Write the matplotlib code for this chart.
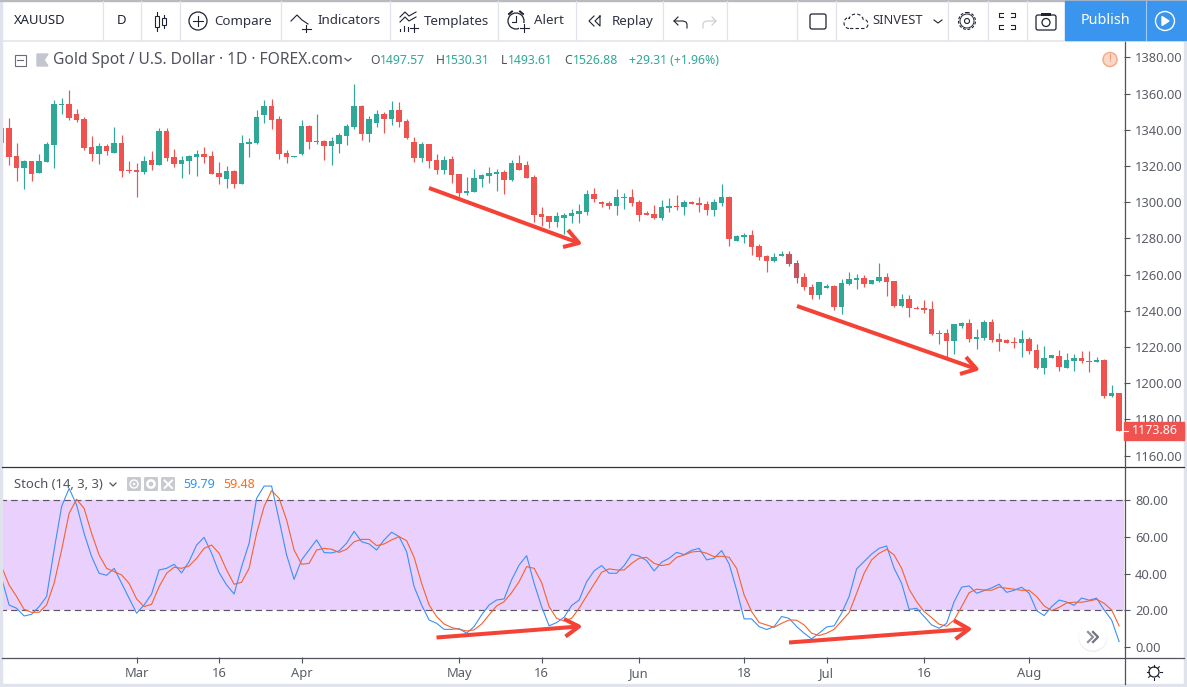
#!/usr/bin/env python
import numpy as np
import matplotlib
matplotlib.use("Agg")
from matplotlib import pyplot as plt
from matplotlib.patches import Rectangle, Circle, FancyBboxPatch

plt.rcParams['font.family'] = ['Noto Sans', 'DejaVu Sans']

# data
###########################################################################
opens = [1332.8, 1341.0, 1325.6, 1319.0, 1322.8, 1316.2, 1322.3, 1331.7, 1353.8, 1354.3,
         1348.8, 1346.0, 1330.5, 1326.7, 1331.1, 1327.2, 1332.8, 1317.9, 1317.9, 1316.7,
         1323.4, 1320.6, 1339.4, 1325.0, 1321.2, 1322.8, 1325.0, 1326.7, 1325.6, 1316.2,
         1312.9, 1317.3, 1310.1, 1332.2, 1332.8, 1348.2, 1353.2, 1346.0, 1327.2, 1325.0,
         1326.7, 1342.2, 1333.3, 1333.9, 1331.1, 1332.2, 1336.6, 1341.6, 1353.2, 1337.7,
         1343.8, 1348.8, 1346.0, 1351.0, 1344.9, 1333.3, 1324.5, 1332.2, 1323.4, 1317.9,
         1323.9, 1315.6, 1305.1, 1305.7, 1312.9, 1314.5, 1315.6, 1316.7, 1312.3, 1321.7,
         1320.6, 1314.0, 1293.5, 1292.4, 1289.1, 1291.3, 1292.4, 1293.5, 1294.6, 1304.6,
         1300.2, 1299.6, 1298.0, 1302.4, 1302.9, 1300.2, 1294.1, 1293.5, 1291.3, 1296.8,
         1298.0, 1297.4, 1300.2, 1299.6, 1299.0, 1295.7, 1299.6, 1302.9, 1278.6, 1280.8,
         1281.9, 1275.8, 1270.3, 1267.6, 1270.3, 1271.4, 1266.4, 1258.7, 1253.2, 1248.8,
         1252.6, 1253.7, 1242.1, 1254.8, 1257.1, 1258.2, 1254.8, 1256.5, 1258.7, 1256.5,
         1242.7, 1246.6, 1241.6, 1241.6, 1241.0, 1227.2, 1227.8, 1223.4, 1231.6, 1233.3,
         1224.5, 1225.0, 1233.9, 1224.5, 1223.9, 1222.8, 1222.2, 1224.5, 1218.4, 1208.4,
         1214.0, 1215.1, 1208.4, 1212.3, 1214.0, 1212.3, 1211.8, 1212.9, 1192.9, 1194.6]
highs = [1341.0, 1346.6, 1332.8, 1323.4, 1322.8, 1326.7, 1333.3, 1356.5, 1357.6, 1362.0,
         1351.5, 1347.1, 1336.6, 1332.8, 1332.2, 1341.6, 1337.2, 1322.8, 1321.7, 1325.6,
         1328.3, 1341.0, 1341.0, 1329.5, 1325.6, 1326.1, 1328.9, 1330.5, 1328.3, 1322.3,
         1320.1, 1317.9, 1337.2, 1335.5, 1351.0, 1356.5, 1357.1, 1347.7, 1328.9, 1325.6,
         1345.5, 1342.7, 1348.8, 1334.4, 1336.1, 1338.3, 1343.3, 1365.4, 1353.8, 1347.7,
         1351.0, 1349.9, 1356.0, 1355.4, 1346.0, 1336.1, 1333.3, 1332.2, 1326.7, 1325.6,
         1325.6, 1315.6, 1314.0, 1318.4, 1315.6, 1319.5, 1318.4, 1317.9, 1323.4, 1326.1,
         1322.8, 1315.1, 1297.4, 1292.4, 1294.6, 1294.1, 1296.3, 1299.1, 1306.8, 1307.9,
         1300.7, 1300.7, 1307.3, 1305.1, 1307.3, 1301.3, 1295.2, 1298.5, 1301.3, 1302.4,
         1304.0, 1301.3, 1300.7, 1302.9, 1300.7, 1301.8, 1310.1, 1303.5, 1281.9, 1283.0,
         1284.7, 1277.0, 1270.9, 1272.0, 1273.1, 1273.1, 1268.1, 1260.9, 1254.8, 1256.0,
         1254.8, 1254.3, 1257.6, 1261.5, 1260.4, 1259.8, 1257.1, 1266.4, 1260.9, 1256.5,
         1249.3, 1248.8, 1242.7, 1246.0, 1245.5, 1229.4, 1230.0, 1232.7, 1233.9, 1235.5,
         1230.0, 1235.0, 1235.5, 1227.8, 1224.5, 1225.6, 1229.4, 1225.6, 1221.7, 1220.6,
         1215.6, 1218.4, 1216.7, 1216.2, 1217.8, 1217.8, 1214.5, 1213.4, 1199.0, 1194.6]
lows = [1332.8, 1320.6, 1311.8, 1307.3, 1311.8, 1316.2, 1322.3, 1319.0, 1348.8, 1345.5,
        1344.4, 1328.9, 1322.8, 1321.2, 1326.1, 1327.2, 1314.0, 1316.2, 1302.9, 1315.6,
        1317.9, 1320.6, 1322.8, 1319.5, 1313.4, 1315.6, 1314.5, 1321.7, 1315.6, 1310.1,
        1307.9, 1307.9, 1310.1, 1325.0, 1332.2, 1343.8, 1340.5, 1323.9, 1321.7, 1325.0,
        1326.1, 1329.5, 1332.2, 1323.4, 1320.6, 1327.2, 1331.7, 1340.5, 1334.4, 1333.3,
        1341.6, 1338.3, 1342.7, 1341.6, 1335.0, 1322.3, 1322.3, 1319.0, 1315.6, 1315.6,
        1310.7, 1302.4, 1304.0, 1305.7, 1308.5, 1310.7, 1306.2, 1304.6, 1311.8, 1317.9,
        1313.4, 1289.1, 1286.9, 1285.8, 1286.4, 1282.5, 1288.6, 1288.6, 1293.0, 1300.2,
        1297.4, 1296.3, 1293.0, 1296.3, 1298.0, 1289.7, 1293.0, 1290.8, 1290.2, 1294.6,
        1295.7, 1293.0, 1299.0, 1294.6, 1293.0, 1292.4, 1298.0, 1275.8, 1278.6, 1277.5,
        1270.9, 1268.1, 1261.5, 1267.0, 1270.3, 1264.8, 1255.4, 1251.5, 1246.6, 1246.6,
        1252.6, 1240.5, 1238.3, 1254.3, 1252.1, 1253.2, 1254.8, 1256.0, 1248.2, 1242.1,
        1242.1, 1236.6, 1241.0, 1238.8, 1226.7, 1221.7, 1214.0, 1216.2, 1230.5, 1222.8,
        1218.9, 1223.9, 1222.8, 1217.8, 1222.2, 1219.5, 1214.5, 1216.2, 1207.9, 1205.1,
        1214.0, 1206.8, 1208.4, 1206.8, 1211.2, 1206.2, 1211.8, 1191.9, 1192.4, 1173.86]
closes = [1341.0, 1325.0, 1319.0, 1322.8, 1315.6, 1322.8, 1332.2, 1354.3, 1354.3, 1346.6,
          1345.5, 1329.8, 1326.7, 1331.1, 1328.3, 1332.8, 1317.3, 1317.3, 1316.7, 1322.8,
          1320.6, 1339.4, 1324.5, 1321.2, 1323.4, 1325.6, 1326.7, 1325.0, 1315.6, 1314.0,
          1317.3, 1310.1, 1332.8, 1333.3, 1347.1, 1353.2, 1345.5, 1326.7, 1325.0, 1325.6,
          1342.2, 1333.3, 1333.9, 1331.1, 1333.9, 1337.2, 1342.2, 1353.2, 1337.7, 1346.0,
          1348.8, 1346.0, 1351.0, 1344.4, 1335.3, 1324.5, 1332.2, 1322.8, 1317.9, 1323.4,
          1315.1, 1305.1, 1306.2, 1313.4, 1315.1, 1316.2, 1316.7, 1312.3, 1321.7, 1317.9,
          1313.4, 1293.0, 1291.9, 1289.1, 1292.4, 1293.0, 1294.1, 1295.2, 1304.6, 1301.8,
          1299.0, 1298.0, 1302.9, 1302.9, 1299.6, 1293.0, 1293.0, 1291.3, 1297.4, 1298.0,
          1297.4, 1300.2, 1299.0, 1298.5, 1295.7, 1300.2, 1302.9, 1279.7, 1281.4, 1281.9,
          1275.3, 1269.8, 1267.6, 1269.8, 1271.4, 1265.9, 1258.2, 1253.2, 1248.8, 1256.0,
          1253.7, 1242.1, 1255.4, 1257.6, 1258.2, 1254.8, 1257.1, 1258.7, 1256.0, 1242.7,
          1246.6, 1241.6, 1241.0, 1240.5, 1227.2, 1227.8, 1223.4, 1232.7, 1233.3, 1224.5,
          1225.6, 1233.9, 1223.9, 1222.8, 1222.2, 1222.2, 1224.5, 1217.8, 1208.4, 1214.0,
          1215.6, 1209.0, 1212.9, 1214.0, 1212.3, 1211.8, 1212.9, 1192.9, 1194.6, 1173.86]

stoch_k = [37.5, 22.9, 21.1, 16.9, 17.8, 22.0, 27.5, 52.9, 76.6, 86.5,
           77.5, 62.0, 49.3, 40.2, 39.1, 42.9, 34.7, 26.6, 18.4, 22.9,
           28.9, 42.0, 42.9, 45.1, 40.4, 46.6, 55.6, 59.8, 51.1, 40.6,
           33.8, 28.9, 43.8, 56.6, 81.1, 87.8, 87.8, 69.3, 50.2, 36.9,
           47.5, 52.9, 58.4, 51.5, 51.3, 52.4, 56.6, 63.1, 57.4, 56.2,
           52.9, 58.4, 62.6, 60.2, 52.0, 32.9, 22.9, 14.7, 12.9, 9.6,
           9.6, 10.0, 7.5, 11.1, 17.5, 22.9, 25.6, 26.2, 36.6, 44.7,
           49.8, 34.7, 22.0, 11.5, 13.3, 16.2, 22.6, 25.6, 35.6, 41.5,
           44.4, 40.2, 40.2, 44.4, 50.5, 49.6, 47.1, 41.5, 46.2, 48.4,
           51.6, 50.4, 52.7, 53.8, 47.5, 48.4, 52.6, 45.3, 31.1, 15.3,
           15.3, 11.1, 9.5, 11.1, 16.6, 15.6, 11.1, 7.5, 4.4, 7.5,
           10.9, 11.5, 18.4, 27.5, 42.6, 46.6, 50.7, 53.8, 55.1, 42.9,
           34.7, 20.5, 21.1, 16.6, 12.0, 10.2, 12.9, 24.7, 32.6, 33.3,
           29.3, 30.7, 32.2, 34.2, 29.8, 30.9, 32.6, 29.3, 19.8, 17.1,
           22.0, 25.6, 24.5, 22.7, 26.7, 25.5, 26.6, 20.2, 14.7, 2.9]
stoch_d = [43.8, 33.8, 27.5, 20.5, 18.9, 18.9, 22.9, 34.7, 52.9, 72.9,
           80.6, 75.6, 62.0, 50.2, 42.9, 41.1, 39.3, 34.7, 26.2, 22.0,
           23.3, 32.9, 40.2, 43.5, 42.9, 44.2, 48.4, 53.8, 55.6, 51.1,
           42.0, 34.2, 35.3, 42.9, 62.0, 76.6, 85.3, 81.1, 69.3, 52.9,
           45.1, 45.6, 52.9, 53.8, 53.3, 51.6, 53.3, 57.4, 58.7, 58.7,
           55.3, 56.2, 58.4, 60.2, 58.0, 48.9, 34.7, 22.9, 16.6, 12.5,
           10.6, 9.6, 8.7, 9.3, 12.5, 17.5, 22.4, 24.7, 29.6, 35.6,
           43.8, 42.9, 35.1, 22.0, 15.6, 14.2, 15.6, 21.1, 27.8, 34.2,
           40.7, 42.6, 42.0, 42.0, 45.6, 48.4, 48.9, 45.6, 44.4, 45.1,
           48.9, 50.2, 51.8, 52.2, 51.1, 49.3, 49.5, 48.9, 42.9, 28.4,
           19.3, 13.3, 12.0, 10.7, 12.9, 14.7, 14.6, 12.0, 7.5, 6.2,
           7.5, 9.6, 14.2, 18.7, 29.3, 40.2, 47.5, 51.1, 53.3, 50.2,
           42.9, 31.5, 24.7, 19.3, 16.0, 12.4, 11.3, 14.7, 22.0, 29.6,
           31.5, 31.1, 30.9, 32.7, 32.0, 31.5, 30.9, 30.9, 27.5, 22.4,
           19.8, 21.6, 24.0, 24.4, 24.4, 25.1, 26.0, 23.8, 20.2, 11.5]

price_ticks = [1380, 1360, 1340, 1320, 1300, 1280, 1260, 1240, 1220, 1200, 1180, 1160]
stoch_ticks = [80, 60, 40, 20, 0]
time_ticks = [18, 29, 40, 61, 72, 85, 99, 110, 123, 137]
time_labels = ['Mar', '16', 'Apr', 'May', '16', 'Jun', '18', 'Jul', '16', 'Aug']
last_price = 1173.86

# colours
###########################################################################
GREEN = '#2fa898'
RED = '#ef5350'
DIM_RED = '#c4555f'
AXIS = '#50535e'
TEXT = '#5a5d68'
DARK = '#2f3241'
LINE = '#e0e3eb'
ARROW = '#f44336'
BLUE = '#3c90f5'
ORANGE = '#f5622d'
dimmed = [105, 106]

W, H = 1187, 687


def px_axes(fig, left, top, right, bottom):
    return fig.add_axes([left / W, 1 - bottom / H, (right - left) / W, (bottom - top) / H])


def plot_candles(ax):
    idx = np.arange(len(opens))
    o, h, l, c = map(np.array, (opens, highs, lows, closes))
    colors = [GREEN if cc >= oo else RED for oo, cc in zip(o, c)]
    for i in dimmed:
        colors[i] = DIM_RED
    ax.vlines(idx, l, h, colors=colors, linewidth=0.85, zorder=2)
    ax.bar(idx, np.abs(c - o), bottom=np.minimum(o, c), width=0.7, color=colors,
           linewidth=0, zorder=3)


def style_axis(ax):
    for s in ax.spines.values():
        s.set_visible(False)
    ax.yaxis.tick_right()
    ax.tick_params(axis='y', length=4, width=0.8, color=AXIS, labelcolor=TEXT,
                   labelsize=9.3, pad=4)
    ax.patch.set_alpha(0)


def label(ov, x, y, s, color=TEXT, size=9, ha='left', **kw):
    ov.text(x, y, s, color=color, fontsize=size, ha=ha, va='center', **kw)


def draw_arrow(ov, start, tip, barb1, barb2):
    style = dict(color=ARROW, lw=2.9, solid_capstyle='butt', solid_joinstyle='round', zorder=8)
    ov.plot([start[0], tip[0]], [start[1], tip[1]], **style)
    ov.plot([barb1[0], tip[0], barb2[0]], [barb1[1], tip[1], barb2[1]], **style)


def draw_toolbar(ov):
    ov.add_patch(Rectangle((0, 0), W, 1.2, color='#b8bac0', zorder=1))
    ov.plot([0, W], [40.5, 40.5], color=LINE, lw=1.1)
    for x in [102.5, 140.5, 179.5, 281, 389.5, 498, 576, 663, 726.5, 797, 836, 948, 987.5, 1027]:
        ov.plot([x, x], [1, 40], color=LINE, lw=0.9)
    label(ov, 14, 21, 'XAUUSD', color='#1f2230', size=9.4, weight='bold')
    label(ov, 121, 21, 'D', color='#1f2230', size=9.5, ha='center')
    for x, s in [(214, 'Compare'), (317, 'Indicators'), (424, 'Templates'), (534, 'Alert'), (612, 'Replay')]:
        label(ov, x, 21, s, color=DARK, size=9.6)
    label(ov, 872, 21, 'SINVEST', color=DARK, size=9.3)
    ic = dict(color='#1f2230', lw=0.8)
    # candle icon
    ov.plot([157, 157], [12, 31], **ic)
    ov.add_patch(Rectangle((155, 16), 4, 11, fc='white', ec='#1f2230', lw=0.8, zorder=3))
    ov.plot([164, 164], [15, 28], **ic)
    ov.add_patch(Rectangle((162, 18), 4, 7, fc='white', ec='#1f2230', lw=0.8, zorder=3))
    # compare
    ov.add_patch(Circle((198, 21), 9, fc='none', ec='#1f2230', lw=0.9))
    ov.plot([193, 203], [21, 21], **ic)
    ov.plot([198, 198], [16, 26], **ic)
    # indicators
    ov.plot([291, 297, 302, 308], [21, 15, 20, 24], **ic)
    ov.plot([306, 306], [25, 32], **ic)
    ov.plot([302, 311], [28.5, 28.5], **ic)
    # templates
    ov.plot([400, 405, 409, 416], [17, 12, 16, 12], **ic)
    ov.plot([400, 405, 409, 416], [22, 17, 21, 17], **ic)
    ov.plot([400, 400], [29, 31], **ic)
    ov.plot([404, 404], [26, 31], **ic)
    ov.plot([408, 408], [27, 31], **ic)
    ov.plot([414, 414], [24, 32], **ic)
    ov.plot([410, 418], [28, 28], **ic)
    # alert
    ov.add_patch(Circle((516, 21), 8, fc='none', ec='#1f2230', lw=0.9))
    ov.plot([516, 516, 512], [16, 22, 22], **ic)
    ov.plot([509, 512], [14, 11.5], color='#1f2230', lw=1.4)
    ov.plot([523, 520], [14, 11.5], color='#1f2230', lw=1.4)
    ov.add_patch(Rectangle((519, 23), 9, 9, fc='white', ec='none', zorder=3))
    ov.plot([524, 524], [24, 32], zorder=4, **ic)
    ov.plot([520, 529], [28, 28], zorder=4, **ic)
    # replay
    ov.plot([594, 589, 594], [16, 21, 26], **ic)
    ov.plot([600, 595, 600, 600], [16, 21, 26, 16], **ic)
    # undo and redo
    ov.plot([678, 674, 678], [17, 21, 25], **ic)
    ov.plot([674, 683, 686, 687, 687], [21, 21, 22, 24, 28], **ic)
    ov.plot([712, 716, 712], [17, 21, 25], color='#c8cad0', lw=0.8)
    ov.plot([716, 707, 704, 703, 703], [21, 21, 22, 24, 28], color='#c8cad0', lw=0.8)
    # square
    ov.add_patch(FancyBboxPatch((810, 14), 16, 15, boxstyle='round,pad=0,rounding_size=2',
                                fc='white', ec='#1f2230', lw=0.9))
    # cloud, one dashed outline
    cloud_t = np.radians(np.arange(90, 271, 15))
    cx = list(849 + 5 * np.cos(cloud_t))
    cy = list(23 + 5.5 * np.sin(cloud_t))
    top_t = np.radians(np.arange(200, 361, 15))
    cx += list(856 + 7.5 * np.cos(top_t))
    cy += list(21 + 7 * np.sin(top_t))
    end_t = np.radians(np.arange(-60, 91, 15))
    cx += list(864 + 4 * np.cos(end_t))
    cy += list(24 + 4.5 * np.sin(end_t))
    cx += [849]
    cy += [28.5]
    ov.plot(cx, cy, color='#1f2230', lw=0.8, ls=(0, (3, 2)))
    ov.plot([934, 938, 942], [20, 23, 20], **ic)
    # gear
    ov.add_patch(Circle((967, 21), 8.5, fc='none', ec='#1f2230', lw=0.8, ls=(0, (2.6, 1.6))))
    ov.add_patch(Circle((967, 21), 7, fc='none', ec='#1f2230', lw=0.7))
    ov.add_patch(Circle((967, 21), 2.5, fc='none', ec='#1f2230', lw=0.8))
    # fullscreen
    for sx, sy in [(-1, -1), (1, -1), (-1, 1), (1, 1)]:
        cx0, cy0 = 1007 + sx * 8, 21 + sy * 8
        ov.plot([cx0 - sx * 4, cx0, cx0, cx0 - sx * 4], [cy0, cy0, cy0 - sy * 4, cy0 - sy * 4], **ic)
    # camera
    ov.add_patch(FancyBboxPatch((1036, 15), 20, 15, boxstyle='round,pad=0,rounding_size=2',
                                fc='white', ec='#1f2230', lw=0.9))
    ov.add_patch(Rectangle((1041, 12.5), 10, 3, fc='#1f2230', ec='none'))
    ov.add_patch(Circle((1046, 22.5), 4, fc='white', ec='#1f2230', lw=0.9))
    # publish
    ov.add_patch(Rectangle((1065, 1.2), 122, 39, color='#3a95ee', zorder=2))
    ov.plot([1145.5, 1145.5], [1.2, 40], color='#9ccaf6', lw=0.8, zorder=3)
    ov.text(1105, 21, 'Publish', color='white', fontsize=10.3, ha='center', va='center', zorder=4)
    ov.add_patch(Circle((1165, 21), 9.5, fc='none', ec='white', lw=1.0, zorder=4))
    ov.fill([1162, 1162, 1169], [16.5, 25.5, 21], color='white', zorder=4)


def draw_legends(ov):
    ov.add_patch(Rectangle((14.5, 54.5), 11, 11, fc='white', ec='#6a6d78', lw=0.8))
    ov.plot([17, 23], [60, 60], color='#6a6d78', lw=0.8)
    ov.fill([37, 48, 44, 48, 37], [54, 54, 60, 66, 66], color='#c3c6ce')
    label(ov, 53, 60, 'Gold Spot / U.S. Dollar · 1D · FOREX.com', size=11.2, color='#50535e')
    ov.plot([345, 348, 351], [58.5, 61, 58.5], color='#50535e', lw=0.9)
    for x, s in [(370, 'O'), (436, 'H'), (500.5, 'L'), (564, 'C')]:
        label(ov, x, 60.5, s, size=8.8, color='#50535e')
    for x, s in [(380, '1497.57'), (445, '1530.31'), (508, '1493.61'), (573, '1526.88'),
                 (629, '+29.31 (+1.96%)')]:
        label(ov, x, 60.5, s, size=8.8, color=GREEN)
    ov.add_patch(Circle((1110, 59.5), 7, fc='#fcd7c6', ec='#f5ab8a', lw=1.1))
    ov.text(1110, 59.5, '!', color='#f0906a', fontsize=8, ha='center', va='center')

    label(ov, 14, 484, 'Stoch (14, 3, 3)', size=9.4, color='#50535e')
    ov.plot([110, 113, 116], [483, 486, 483], color='#50535e', lw=0.9)
    for x in [127, 144, 161]:
        ov.add_patch(FancyBboxPatch((x, 477), 14, 14, boxstyle='round,pad=0,rounding_size=1.5',
                                    fc='#c8cad0', ec='none'))
    ov.add_patch(Circle((134, 484), 4, fc='none', ec='white', lw=1))
    ov.add_patch(Circle((134, 484), 1.3, fc='white', ec='none'))
    ov.add_patch(Circle((151, 484), 3.6, fc='none', ec='white', lw=1.8))
    ov.plot([164.5, 172], [480.5, 488], color='white', lw=1.4)
    ov.plot([172, 164.5], [480.5, 488], color='white', lw=1.4)
    label(ov, 183, 484, '59.79', size=9, color='#2d96f3')
    label(ov, 223, 484, '59.48', size=9, color='#f96d1c')


def main():
    fig = plt.figure(figsize=(W / 100, H / 100), dpi=100, facecolor='white')
    xlim = (-0.213, 149.65)

    ax_price = px_axes(fig, 0, 41, 1124, 466)
    plot_candles(ax_price)
    ax_price.set_xlim(*xlim)
    ax_price.set_ylim(1154.3, 1389.1)
    ax_price.set_yticks(price_ticks, ['%.2f' % t for t in price_ticks])
    ax_price.set_xticks([])
    style_axis(ax_price)

    ax_stoch = px_axes(fig, 0, 467, 1124, 657)
    ax_stoch.axhspan(20, 80, color='#e9d0fd', linewidth=0, zorder=1)
    for level in [20, 80]:
        ax_stoch.axhline(level, color='#5d5468', lw=0.85, ls=(0, (5.5, 3.5)), zorder=2)
    idx = np.arange(len(stoch_k))
    ax_stoch.plot(idx, stoch_k, color=BLUE, lw=0.8, zorder=3)
    ax_stoch.plot(idx, stoch_d, color=ORANGE, lw=0.8, zorder=4)
    ax_stoch.set_xlim(*xlim)
    ax_stoch.set_ylim(-5.5, 98.2)
    ax_stoch.set_yticks(stoch_ticks, ['%.2f' % t for t in stoch_ticks])
    ax_stoch.set_xticks(time_ticks, time_labels)
    style_axis(ax_stoch)
    ax_stoch.tick_params(axis='x', length=4, width=0.8, color=AXIS, labelcolor=TEXT,
                         labelsize=9.3, pad=3)

    # chrome drawn in pixel coordinates on top of the two panes
    ov = fig.add_axes([0, 0, 1, 1], zorder=10)
    ov.set_xlim(0, W)
    ov.set_ylim(H, 0)
    ov.axis('off')
    ov.patch.set_alpha(0)

    ov.add_patch(Rectangle((0, 0), 2, H, color=LINE, zorder=1))
    ov.add_patch(Rectangle((1184, 41), 3, H - 41, color=LINE, zorder=1))
    ov.add_patch(Rectangle((0, 684), W, 3, color=LINE, zorder=1))
    ov.plot([2, 1184], [466.5, 466.5], color='#2f3241', lw=0.9)
    ov.plot([2, 1184], [657.5, 657.5], color=AXIS, lw=0.9)
    ov.plot([1124.5, 1124.5], [41, 684], color=AXIS, lw=0.9)

    draw_toolbar(ov)
    draw_legends(ov)

    draw_arrow(ov, (429, 188), (579, 243), (568, 230), (563, 247))
    draw_arrow(ov, (797, 306), (976.5, 369), (966, 357), (960, 374))
    draw_arrow(ov, (436.5, 637.5), (579, 626.5), (564, 619), (565.5, 636.5))
    draw_arrow(ov, (789, 642.5), (969, 629), (954, 620.5), (955.5, 639))

    # last price tag
    ov.add_patch(Rectangle((1124, 421.5), 60, 18, color=RED, zorder=5))
    ov.plot([1124, 1128], [430.5, 430.5], color='white', lw=0.8, zorder=6)
    ov.text(1154.5, 430.5, '%.2f' % last_price, color='white', fontsize=9, weight='bold',
            ha='center', va='center', zorder=6)

    # scroll button
    ov.add_patch(Circle((1093, 637.5), 14.5, fc='#eeeff2', ec='none', zorder=5))
    ov.add_patch(Circle((1093, 636.5), 14, fc='white', ec='none', zorder=5))
    ov.plot([1088, 1093, 1088], [632, 637, 642], color='#8f929c', lw=1.6, zorder=6)
    ov.plot([1093, 1098, 1093], [632, 637, 642], color='#70737e', lw=1.6, zorder=6)

    # sun icon
    ov.add_patch(Circle((1154, 672), 5, fc='none', ec='#1f2230', lw=0.9))
    for ang in np.arange(0, 360, 45):
        a = np.radians(ang)
        ov.plot([1154 + 5.5 * np.cos(a), 1154 + 7.5 * np.cos(a)],
                [672 + 5.5 * np.sin(a), 672 + 7.5 * np.sin(a)], color='#1f2230', lw=0.8)

    fig.savefig('out.png', dpi=100)


if __name__ == "__main__":
    main()
